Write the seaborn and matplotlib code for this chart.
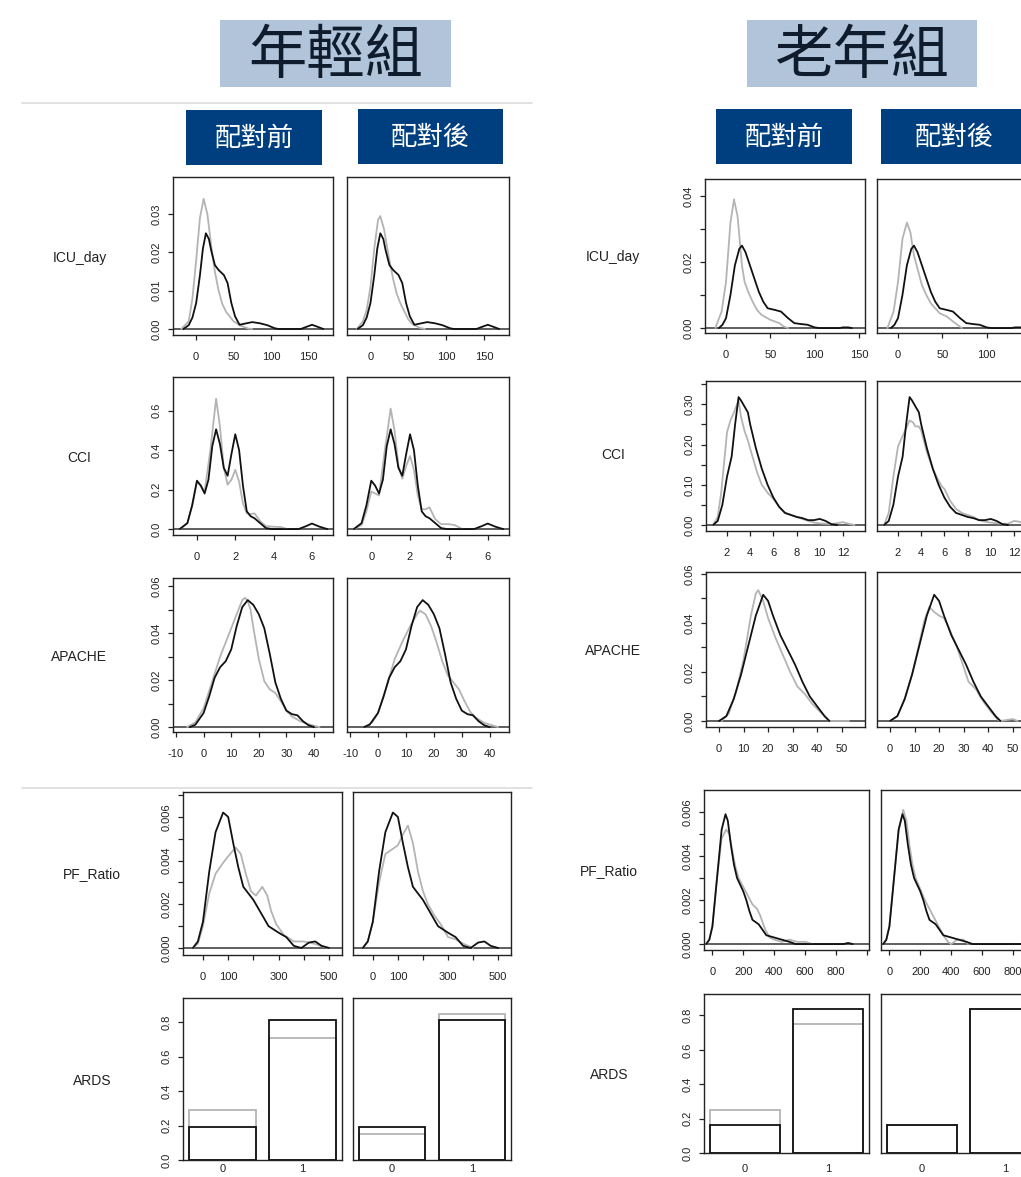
import matplotlib
matplotlib.use("Agg")
import matplotlib.pyplot as plt
from matplotlib.patches import Rectangle
from matplotlib.lines import Line2D
import seaborn as sns
import pandas as pd

# ---------------- data ----------------
groups = ["年輕組", "老年組"]
phases = ["配對前", "配對後"]
variables = ["ICU_day", "CCI", "APACHE", "PF_Ratio", "ARDS"]
ards_levels = ["0", "1"]

# density curves as (x, density) points; black = same in both phases
young_icu_black = [(-17, 0), (-10, 0.001), (-5, 0.003), (0, 0.0068), (5, 0.014), (9, 0.021), (13, 0.025),
                   (17, 0.0235), (20, 0.0206), (25, 0.0167), (30, 0.0154), (37, 0.0141), (42, 0.012),
                   (47, 0.0068), (52, 0.0033), (58, 0.0011), (65, 0.0014), (75, 0.0018), (85, 0.0015),
                   (95, 0.001), (105, 0.0002), (110, 0), (140, 0), (148, 0.0006), (155, 0.0011),
                   (162, 0.0006), (170, 0)]
young_icu_pre = [(-20, 0), (-10, 0.002), (-5, 0.008), (0, 0.018), (5, 0.029), (10, 0.034), (15, 0.030),
                 (20, 0.022), (25, 0.015), (30, 0.010), (35, 0.0065), (40, 0.0045), (50, 0.002),
                 (60, 0.0008), (70, 0.0001), (75, 0)]
young_icu_post = [(-18, 0), (-10, 0.002), (-5, 0.005), (0, 0.011), (5, 0.021), (10, 0.0285), (13, 0.0295),
                  (18, 0.026), (25, 0.018), (30, 0.013), (35, 0.009), (40, 0.0065), (45, 0.0045),
                  (50, 0.0025), (55, 0.0013), (65, 0.0003), (72, 0)]

young_cci_black = [(-0.9, 0), (-0.5, 0.03), (-0.25, 0.12), (0, 0.245), (0.2, 0.22), (0.4, 0.18), (0.6, 0.25),
                   (0.8, 0.42), (1.0, 0.505), (1.2, 0.43), (1.4, 0.31), (1.6, 0.27), (1.8, 0.38), (2.0, 0.48),
                   (2.2, 0.40), (2.4, 0.22), (2.6, 0.09), (2.8, 0.065), (3.0, 0.055), (3.3, 0.03),
                   (3.6, 0.005), (3.9, 0), (5.3, 0), (5.7, 0.015), (6.0, 0.028), (6.4, 0.012), (6.8, 0)]
young_cci_pre = [(-0.9, 0), (-0.5, 0.03), (-0.25, 0.12), (0, 0.24), (0.2, 0.22), (0.4, 0.19), (0.7, 0.40),
                 (1.0, 0.66), (1.2, 0.52), (1.4, 0.31), (1.6, 0.225), (1.8, 0.25), (2.0, 0.30), (2.2, 0.24),
                 (2.4, 0.13), (2.6, 0.08), (2.8, 0.075), (3.0, 0.08), (3.3, 0.04), (3.6, 0.015),
                 (4.0, 0.012), (4.4, 0.01), (4.7, 0)]
young_cci_post = [(-0.9, 0), (-0.5, 0.02), (-0.25, 0.09), (0, 0.19), (0.2, 0.18), (0.4, 0.17), (0.7, 0.40),
                  (1.0, 0.61), (1.2, 0.50), (1.4, 0.32), (1.6, 0.255), (1.8, 0.32), (2.0, 0.37), (2.2, 0.30),
                  (2.4, 0.17), (2.6, 0.10), (2.8, 0.10), (3.0, 0.11), (3.3, 0.05), (3.6, 0.025),
                  (4.0, 0.025), (4.3, 0.02), (4.7, 0)]

young_apache_black = [(-5, 0), (-3, 0.001), (0, 0.006), (2, 0.013), (4, 0.021), (6, 0.0255), (8, 0.028),
                      (10, 0.033), (12, 0.043), (14, 0.051), (16, 0.054), (18, 0.052), (20, 0.048),
                      (22, 0.042), (24, 0.031), (26, 0.019), (28, 0.012), (30, 0.007), (32, 0.0055),
                      (34, 0.005), (36, 0.0025), (38, 0.0008), (40, 0)]
young_apache_pre = [(-6, 0), (-3, 0.002), (0, 0.008), (3, 0.019), (6, 0.030), (9, 0.039), (12, 0.048),
                    (14, 0.054), (15, 0.055), (16, 0.0535), (17, 0.05), (18, 0.0425), (20, 0.029),
                    (22, 0.0195), (24, 0.016), (26, 0.0145), (28, 0.011), (30, 0.007), (32, 0.0045),
                    (35, 0.0025), (38, 0.0012), (42, 0)]
young_apache_post = [(-5, 0), (-2, 0.002), (0, 0.006), (3, 0.017), (6, 0.029), (9, 0.037), (12, 0.044),
                     (14, 0.048), (15, 0.0495), (17, 0.048), (19, 0.043), (21, 0.036), (23, 0.028),
                     (25, 0.022), (27, 0.019), (29, 0.016), (31, 0.011), (33, 0.0065), (35, 0.004),
                     (38, 0.0018), (43, 0)]

young_pf_black = [(-40, 0), (-20, 0.0003), (0, 0.0012), (25, 0.0035), (50, 0.0053), (80, 0.0062),
                  (100, 0.006), (120, 0.0048), (140, 0.0037), (160, 0.0028), (180, 0.0025), (200, 0.0022),
                  (230, 0.0016), (260, 0.001), (300, 0.0007), (330, 0.0005), (360, 0.0001), (390, 0),
                  (420, 0.00025), (445, 0.0003), (470, 0.0001), (500, 0)]
young_pf_pre = [(-40, 0), (-20, 0.0002), (0, 0.001), (25, 0.0025), (50, 0.0034), (80, 0.0039), (100, 0.0042),
                (130, 0.0046), (150, 0.0043), (170, 0.0034), (190, 0.0026), (210, 0.0024), (235, 0.0028),
                (255, 0.0024), (270, 0.0017), (290, 0.0011), (320, 0.0006), (360, 0.0003), (400, 0.0003),
                (440, 0.0002), (480, 0.00005), (500, 0)]
young_pf_post = [(-40, 0), (-20, 0.0003), (0, 0.0012), (25, 0.003), (50, 0.0043), (75, 0.0045),
                 (100, 0.0047), (120, 0.0052), (140, 0.0056), (160, 0.0048), (180, 0.0035), (200, 0.0026),
                 (220, 0.002), (245, 0.0015), (270, 0.0011), (300, 0.0005), (330, 0.0004), (360, 0.0002),
                 (380, 0.0001), (400, 0)]

young_ards_black = [0.19, 0.81]
young_ards_pre = [0.29, 0.71]
young_ards_post = [0.15, 0.85]

old_icu_black = [(-8, 0), (-4, 0.001), (0, 0.003), (5, 0.010), (10, 0.019), (15, 0.024), (18, 0.025),
                 (22, 0.023), (27, 0.019), (32, 0.015), (37, 0.011), (42, 0.008), (47, 0.006), (55, 0.0055),
                 (62, 0.005), (70, 0.003), (77, 0.0015), (85, 0.0012), (92, 0.001), (100, 0.0002), (105, 0),
                 (128, 0), (132, 0.0002), (138, 0.0002), (142, 0)]
old_icu_pre = [(-12, 0), (-5, 0.005), (0, 0.014), (5, 0.032), (9, 0.039), (13, 0.034), (16, 0.025),
               (18, 0.019), (21, 0.014), (25, 0.011), (30, 0.008), (35, 0.0055), (40, 0.004), (50, 0.0025),
               (60, 0.0015), (65, 0.0005), (70, 0)]
old_icu_post = [(-12, 0), (-5, 0.005), (0, 0.014), (5, 0.027), (10, 0.032), (14, 0.029), (18, 0.022),
                (22, 0.018), (27, 0.013), (32, 0.010), (37, 0.0075), (42, 0.006), (47, 0.0045), (55, 0.0035),
                (62, 0.002), (68, 0.0008), (72, 0)]

old_cci_black = [(0.8, 0), (1.2, 0.01), (1.6, 0.05), (2.0, 0.12), (2.4, 0.17), (2.7, 0.25), (3.0, 0.318),
                 (3.2, 0.31), (3.5, 0.295), (3.8, 0.28), (4.0, 0.25), (4.5, 0.19), (5.0, 0.14), (5.5, 0.10),
                 (6.0, 0.068), (6.5, 0.045), (7.0, 0.03), (7.5, 0.025), (8.0, 0.02), (8.5, 0.017),
                 (9.0, 0.012), (9.5, 0.012), (10.0, 0.015), (10.5, 0.01), (11.0, 0.002), (11.5, 0)]
old_cci_pre = [(0.8, 0), (1.2, 0.02), (1.5, 0.08), (1.8, 0.17), (2.0, 0.23), (2.3, 0.26), (2.6, 0.28),
               (3.0, 0.31), (3.2, 0.27), (3.5, 0.235), (3.8, 0.21), (4.2, 0.17), (4.6, 0.13), (5.0, 0.10),
               (5.5, 0.08), (6.0, 0.065), (6.5, 0.045), (7.0, 0.03), (7.5, 0.025), (8.0, 0.02),
               (8.5, 0.015), (9.0, 0.01), (9.5, 0.006), (10, 0.004), (11, 0.002), (12, 0.007),
               (12.5, 0.003), (13, 0)]
old_cci_post = [(0.8, 0), (1.2, 0.03), (1.6, 0.12), (2.0, 0.195), (2.3, 0.215), (2.7, 0.24), (3.0, 0.26),
                (3.3, 0.255), (3.5, 0.245), (3.8, 0.245), (4.0, 0.235), (4.5, 0.18), (5.0, 0.14),
                (5.5, 0.11), (5.8, 0.095), (6.0, 0.09), (6.5, 0.06), (7.0, 0.04), (7.5, 0.03),
                (8.0, 0.025), (8.5, 0.02), (9, 0.012), (9.5, 0.008), (10, 0.006), (11, 0.003),
                (11.5, 0.003), (12, 0.01), (12.5, 0.008), (13, 0.002)]

old_apache_black = [(0, 0), (3, 0.002), (6, 0.009), (9, 0.019), (12, 0.031), (15, 0.043), (18, 0.0515),
                    (20, 0.049), (22, 0.043), (25, 0.035), (28, 0.029), (31, 0.023), (34, 0.016),
                    (37, 0.01), (40, 0.006), (43, 0.002), (45, 0)]
old_apache_pre = [(1, 0), (4, 0.003), (7, 0.012), (10, 0.025), (13, 0.043), (15, 0.052), (16, 0.0534),
                  (18, 0.049), (20, 0.042), (23, 0.034), (26, 0.027), (29, 0.020), (32, 0.014), (35, 0.011),
                  (38, 0.007), (41, 0.004), (44, 0.001), (45, 0), (53, 0)]
old_apache_post = [(0, 0), (3, 0.002), (6, 0.009), (9, 0.019), (12, 0.032), (14, 0.041), (16, 0.0465),
                   (18, 0.0445), (20, 0.043), (22, 0.042), (24, 0.038), (27, 0.031), (30, 0.022),
                   (32, 0.016), (35, 0.013), (38, 0.008), (41, 0.004), (44, 0.0005), (45, 0),
                   (50, 0.0008), (52, 0)]

old_pf_black = [(-40, 0), (-20, 0.0002), (0, 0.0008), (30, 0.003), (60, 0.0052), (85, 0.0059),
                (100, 0.0056), (120, 0.0045), (140, 0.0036), (160, 0.003), (180, 0.0027), (200, 0.0024),
                (220, 0.002), (240, 0.0015), (260, 0.0011), (280, 0.001), (300, 0.0009), (320, 0.0007),
                (350, 0.0004), (400, 0.0003), (450, 0.0002), (500, 0.0001), (540, 0), (850, 0),
                (880, 0.00005), (910, 0)]
old_pf_pre = [(-40, 0), (-20, 0.0002), (0, 0.0008), (30, 0.003), (60, 0.0048), (90, 0.0052), (110, 0.005),
              (130, 0.0042), (150, 0.0035), (170, 0.003), (200, 0.0026), (230, 0.0022), (260, 0.0018),
              (290, 0.0016), (310, 0.0013), (340, 0.0007), (370, 0.0003), (400, 0.0002), (450, 0.0001),
              (500, 0.0002), (550, 0.0001), (600, 0.0001), (650, 0)]
old_pf_post = [(-40, 0), (-20, 0.0002), (0, 0.0008), (30, 0.003), (60, 0.0052), (90, 0.0061),
               (110, 0.0056), (130, 0.0045), (150, 0.0036), (170, 0.003), (200, 0.0025), (230, 0.002),
               (260, 0.0016), (290, 0.0012), (320, 0.0008), (350, 0.0004), (380, 0.0001), (400, 0),
               (440, 0.0002), (480, 0.0002), (510, 0)]

old_ards_black = [0.165, 0.835]
old_ards_pre = [0.25, 0.75]
old_ards_post = [0.165, 0.835]

# ---------------- style ----------------
W, H = 1021, 1177
BLACK = "#111111"
GREY = "#b4b4b4"
TXT = "#222222"

sns.set_style("ticks")
plt.rcParams["font.family"] = ["Liberation Sans", "DejaVu Sans"]
CJK = ["Noto Sans CJK TC", "DejaVu Sans"]

fig = plt.figure(figsize=(W / 100, H / 100), dpi=100)


def px_axes(x0, y0, x1, y1):
    return fig.add_axes([x0 / W, 1 - y1 / H, (x1 - x0) / W, (y1 - y0) / H])


def frame(ax, show_y, yticks=None, ylabels=None):
    for s in ax.spines.values():
        s.set_visible(True)
        s.set_color(TXT)
        s.set_linewidth(1.0)
    ax.tick_params(axis="x", direction="out", length=3.5, width=0.9, pad=9,
                   labelsize=8, color=TXT, labelcolor=TXT)
    ax.tick_params(axis="y", direction="out", length=3.5, width=0.9, pad=5,
                   labelsize=8, color=TXT, labelcolor=TXT)
    if show_y:
        ax.set_yticks(yticks, ylabels)
        plt.setp(ax.get_yticklabels(), rotation=90, va="center")
    else:
        ax.set_yticks([])
    ax.set_xlabel("")
    ax.set_ylabel("")


def density_panel(ax, grey_pts, black_pts, xlim, ylim, xticks, xlabels, show_y, yticks, ylabels):
    g = pd.DataFrame(grey_pts, columns=["x", "dens"])
    b = pd.DataFrame(black_pts, columns=["x", "dens"])
    ax.axhline(0, color="#333333", lw=1.1, zorder=1)
    sns.lineplot(data=g, x="x", y="dens", ax=ax, color=GREY, lw=1.3, estimator=None, sort=False, zorder=2)
    sns.lineplot(data=b, x="x", y="dens", ax=ax, color=BLACK, lw=1.3, estimator=None, sort=False, zorder=3)
    ax.set_xlim(*xlim)
    ax.set_ylim(*ylim)
    ax.set_xticks(xticks, xlabels)
    frame(ax, show_y, yticks, ylabels)


def bar_panel(ax, grey_vals, black_vals, ylim, show_y, label_pad):
    g = pd.DataFrame({"ARDS": ards_levels, "prop": grey_vals})
    b = pd.DataFrame({"ARDS": ards_levels, "prop": black_vals})
    sns.barplot(data=g, x="ARDS", y="prop", ax=ax, fill=False, color=GREY, saturation=1,
                linewidth=1.3, width=0.833, errorbar=None)
    sns.barplot(data=b, x="ARDS", y="prop", ax=ax, fill=False, color=BLACK, saturation=1,
                linewidth=1.3, width=0.833, errorbar=None)
    ax.set_xlim(-0.49, 1.49)
    ax.set_ylim(*ylim)
    frame(ax, show_y, [0, 0.2, 0.4, 0.6, 0.8], ["0.0", "0.2", "0.4", "0.6", "0.8"])
    ax.tick_params(axis="x", length=0, pad=label_pad)


# ---------------- panels ----------------
young_rows = [
    # y0, y1, (left x0,x1), (right x0,x1)
    (177, 335, (173, 333), (347, 509)),
    (377, 535, (173, 333), (347, 509)),
    (578, 732, (173, 333), (347, 509)),
    (792, 955, (183, 342), (353, 511)),
    (998, 1160, (183, 342), (353, 511)),
]
# pre, post, black, xlim, ylim, xticks, left xlabels, right xlabels, yticks, ylabels
young_curves = [
    (young_icu_pre, young_icu_post, young_icu_black, (-31, 183), (-0.00157, 0.0397),
     [0, 50, 100, 150], ["0", "50", "100", "150"], ["0", "50", "100", "150"],
     [0, 0.01, 0.02, 0.03], ["0.00", "0.01", "0.02", "0.03"]),
    (young_cci_pre, young_cci_post, young_cci_black, (-1.25, 7.1), (-0.03, 0.77),
     [0, 2, 4, 6], ["0", "2", "4", "6"], ["0", "2", "4", "6"],
     [0, 0.2, 0.4, 0.6], ["0.0", "0.2", "0.4", "0.6"]),
    (young_apache_pre, young_apache_post, young_apache_black, (-11.1, 46.9), (-0.0021, 0.0634),
     [-10, 0, 10, 20, 30, 40], ["-10", "0", "10", "20", "30", "40"], ["-10", "0", "10", "20", "30", "40"],
     [0, 0.01, 0.02, 0.03, 0.04, 0.05, 0.06], ["0.00", "", "0.02", "", "0.04", "", "0.06"]),
    (young_pf_pre, young_pf_post, young_pf_black, (-79, 551), (-0.00032, 0.00714),
     [0, 100, 200, 300, 400, 500], ["0", "100", "", "300", "", "500"], ["0", "100", "", "300", "", "500"],
     [0, 0.001, 0.002, 0.003, 0.004, 0.005, 0.006, 0.007],
     ["0.000", "", "0.002", "", "0.004", "", "0.006", ""]),
]

old_rows = [
    (179, 333, (705, 865), (877, 1037)),
    (381, 531, (706, 865), (877, 1036)),
    (572, 727, (706, 865), (877, 1036)),
    (790, 950, (704, 869), (881, 1046)),
    (994, 1153, (704, 869), (881, 1046)),
]
old_curves = [
    (old_icu_pre, old_icu_post, old_icu_black, (-23.7, 156.8), (-0.0015, 0.0452),
     [0, 50, 100, 150], ["0", "50", "100", "150"], ["0", "50", "100", ""],
     [0, 0.01, 0.02, 0.03, 0.04], ["0.00", "", "0.02", "", "0.04"]),
    (old_cci_pre, old_cci_post, old_cci_black, (0.19, 13.9), (-0.015, 0.358),
     [2, 4, 6, 8, 10, 12], ["2", "4", "6", "8", "10", "12"], ["2", "4", "6", "8", "10", "12"],
     [0, 0.05, 0.10, 0.15, 0.20, 0.25, 0.30, 0.35], ["0.00", "", "0.10", "", "0.20", "", "0.30", ""]),
    (old_apache_pre, old_apache_post, old_apache_black, (-5.3, 59.5), (-0.00245, 0.0608),
     [0, 10, 20, 30, 40, 50], ["0", "10", "20", "30", "40", "50"], ["0", "10", "20", "30", "40", "50"],
     [0, 0.01, 0.02, 0.03, 0.04, 0.05, 0.06], ["0.00", "", "0.02", "", "0.04", "", "0.06"]),
    (old_pf_pre, old_pf_post, old_pf_black, (-54.5, 1016), (-0.00027, 0.0070),
     [0, 200, 400, 600, 800, 1000], ["0", "200", "400", "600", "800", ""],
     ["0", "200", "400", "600", "800", ""],
     [0, 0.001, 0.002, 0.003, 0.004, 0.005, 0.006], ["0.000", "", "0.002", "", "0.004", "", "0.006"]),
]

for rows, curves, ards, ards_ylim, ards_pad in [
    (young_rows, young_curves, (young_ards_pre, young_ards_post, young_ards_black), (0, 0.94), 3),
    (old_rows, old_curves, (old_ards_pre, old_ards_post, old_ards_black), (0, 0.925), 8),
]:
    for (y0, y1, lx, rx), spec in zip(rows[:4], curves):
        pre, post, blk, xlim, ylim, xt, xl_left, xl_right, yt, yl = spec
        axl = px_axes(lx[0], y0, lx[1], y1)
        density_panel(axl, pre, blk, xlim, ylim, xt, xl_left, True, yt, yl)
        axr = px_axes(rx[0], y0, rx[1], y1)
        density_panel(axr, post, blk, xlim, ylim, xt, xl_right, False, yt, yl)
    y0, y1, lx, rx = rows[4]
    axl = px_axes(lx[0], y0, lx[1], y1)
    bar_panel(axl, ards[0], ards[2], ards_ylim, True, ards_pad)
    axr = px_axes(rx[0], y0, rx[1], y1)
    bar_panel(axr, ards[1], ards[2], ards_ylim, False, ards_pad)

# ---------------- row labels ----------------
young_label_pos = [(80, 258), (79, 458), (79, 657), (92, 874), (92, 1081)]
old_label_pos = [(613, 257), (613, 455), (613, 651), (609, 871), (609, 1075)]
for name, (x, y) in zip(variables, young_label_pos):
    fig.text(x / W, 1 - y / H, name, ha="center", va="center", fontsize=10, color=TXT)
for name, (x, y) in zip(variables, old_label_pos):
    fig.text(x / W, 1 - y / H, name, ha="center", va="center", fontsize=10, color=TXT)


# ---------------- headers ----------------
def box_text(x0, y0, x1, y1, text, face, color, size, weight="normal", dy=0):
    fig.add_artist(Rectangle((x0 / W, 1 - y1 / H), (x1 - x0) / W, (y1 - y0) / H,
                             transform=fig.transFigure, facecolor=face, edgecolor="none"))
    fig.text((x0 + x1) / 2 / W, 1 - ((y0 + y1) / 2 + dy) / H, text, ha="center", va="center",
             fontsize=size, color=color, family=CJK, fontweight=weight)


box_text(220, 20, 451, 87, groups[0], "#b1c4da", "#0f1c2e", 42, "light", 3)
box_text(747, 20, 977, 87, groups[1], "#b1c4da", "#0f1c2e", 42, "light", 3)
box_text(186, 110, 322, 165, phases[0], "#003f7f", "white", 19, "light", 1)
box_text(358, 109, 503, 164, phases[1], "#003f7f", "white", 19, "light", 1)
box_text(716, 109, 852, 164, phases[0], "#003f7f", "white", 19, "light", 1)
box_text(881, 109, 1027, 164, phases[1], "#003f7f", "white", 19, "light", 1)

for yy in (103, 788):
    fig.add_artist(Line2D([22 / W, 532 / W], [1 - yy / H, 1 - yy / H], transform=fig.transFigure,
                          color="#dcdcdc", lw=1.2))

fig.savefig("out.png", dpi=100)
